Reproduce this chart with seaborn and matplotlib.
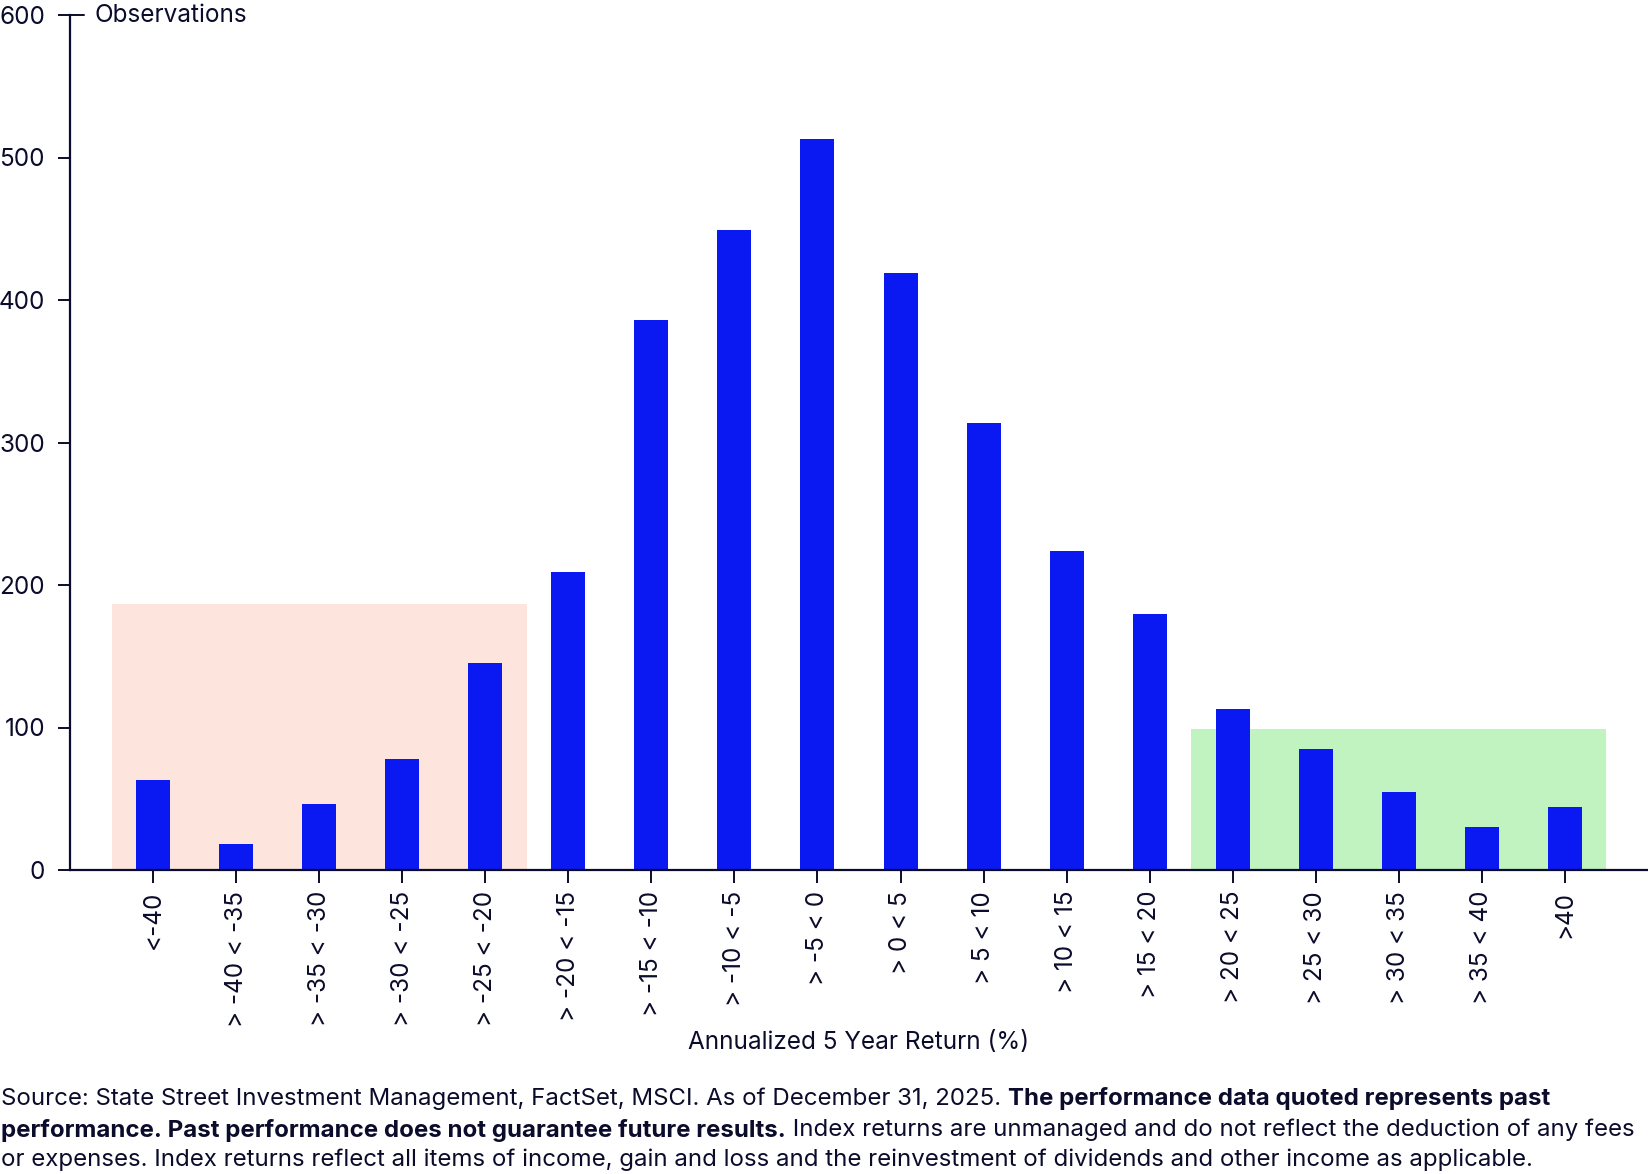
import matplotlib
matplotlib.use("Agg")
import matplotlib.pyplot as plt
import seaborn as sns
import pandas as pd
from matplotlib.patches import Rectangle

# ---------------- data ----------------
categories = ["<-40", "> -40 < -35", "> -35 < -30", "> -30 < -25", "> -25 < -20",
              "> -20 < -15", "> -15 < -10", "> -10 < -5", "> -5 < 0", "> 0 < 5",
              "> 5 < 10", "> 10 < 15", "> 15 < 20", "> 20 < 25", "> 25 < 30",
              "> 30 < 35", "> 35 < 40", ">40"]
observations = [63, 18, 46, 78, 145, 209, 386, 449, 513, 419,
                314, 224, 180, 113, 85, 55, 30, 44]
y_ticks = [0, 100, 200, 300, 400, 500, 600]

# highlighted bands: (first category index, last category index, height)
low_band = (0, 4, 187)
high_band = (13, 17, 99)

y_title = "Observations"
x_title = "Annualized 5 Year Return (%)"
foot_lines = [
    [("Source: State Street Investment Management, FactSet, MSCI. As of December 31, 2025. ", "normal"),
     ("The performance data quoted represents past", "bold")],
    [("performance. Past performance does not guarantee future results.", "bold"),
     (" Index returns are unmanaged and do not reflect the deduction of any fees", "normal")],
    [("or expenses. Index returns reflect all items of income, gain and loss and the reinvestment of dividends and other income as applicable.", "normal")],
]

# ---------------- style ----------------
sns.set_style("white")
plt.rcParams["font.family"] = ["Inter", "DejaVu Sans"]
TXT = "#0b0b2b"
BLUE = "#0a18f2"
PINK = "#fde4dc"
GREEN = "#c1f3c1"
FS = 17.5

W, H = 1648, 1174
fig = plt.figure(figsize=(W / 100, H / 100), dpi=100)
ax_left, ax_right, ax_top, ax_bot = 70, 1648, 15, 870
ax = fig.add_axes([ax_left / W, 1 - ax_bot / H, (ax_right - ax_left) / W, (ax_bot - ax_top) / H])

df = pd.DataFrame({"cat": categories, "obs": observations})
sns.barplot(data=df, x="cat", y="obs", color=BLUE, saturation=1, width=0.41, ax=ax,
            zorder=3, linewidth=0, edgecolor="none")

for (i0, i1, h), col in [(low_band, PINK), (high_band, GREEN)]:
    ax.add_patch(Rectangle((i0 - 0.5, 0), i1 - i0 + 1, h, facecolor=col, edgecolor="none", zorder=1))

ax.set_xlim(-1, len(categories))
ax.set_ylim(0, 600)
ax.set_yticks(y_ticks)
ax.set_yticklabels([str(v) for v in y_ticks])

for s in ["top", "right"]:
    ax.spines[s].set_visible(False)
for s in ["left", "bottom"]:
    ax.spines[s].set_color(TXT)
    ax.spines[s].set_linewidth(1.6)
    ax.spines[s].set_zorder(5)

ax.tick_params(axis="y", direction="out", length=9, width=1.4, color=TXT,
               labelsize=FS, labelcolor=TXT, pad=9, left=True)
ax.tick_params(axis="x", direction="out", length=9, width=1.4, color=TXT,
               labelsize=FS, labelcolor=TXT, pad=6, bottom=True, labelrotation=90)
ax.grid(False)

# small cap on top tick crossing the spine
ax.plot([0, 14 / (ax_right - ax_left)], [1, 1], transform=ax.transAxes, color=TXT,
        lw=1.4, clip_on=False, zorder=6)

ax.text(24 / (ax_right - ax_left), 1, y_title, transform=ax.transAxes, ha="left", va="center",
        fontsize=FS, color=TXT)
ax.set_ylabel("")
ax.set_xlabel(x_title, fontsize=FS, color=TXT)
ax.xaxis.label.set_va("center")
ax.xaxis.set_label_coords(0.5, (ax_bot - 1042) / (ax_bot - ax_top))

# footnote with mixed weights
fig.canvas.draw()
renderer = fig.canvas.get_renderer()
line_y = [1099, 1130, 1160]
for parts, yy in zip(foot_lines, line_y):
    x = 1
    for txt, wt in parts:
        t = fig.text(x / W, 1 - yy / H, txt, fontsize=17.3, fontweight=wt, color=TXT,
                     ha="left", va="center")
        bb = t.get_window_extent(renderer=renderer)
        x = bb.x1

fig.savefig("out.png", dpi=100)
